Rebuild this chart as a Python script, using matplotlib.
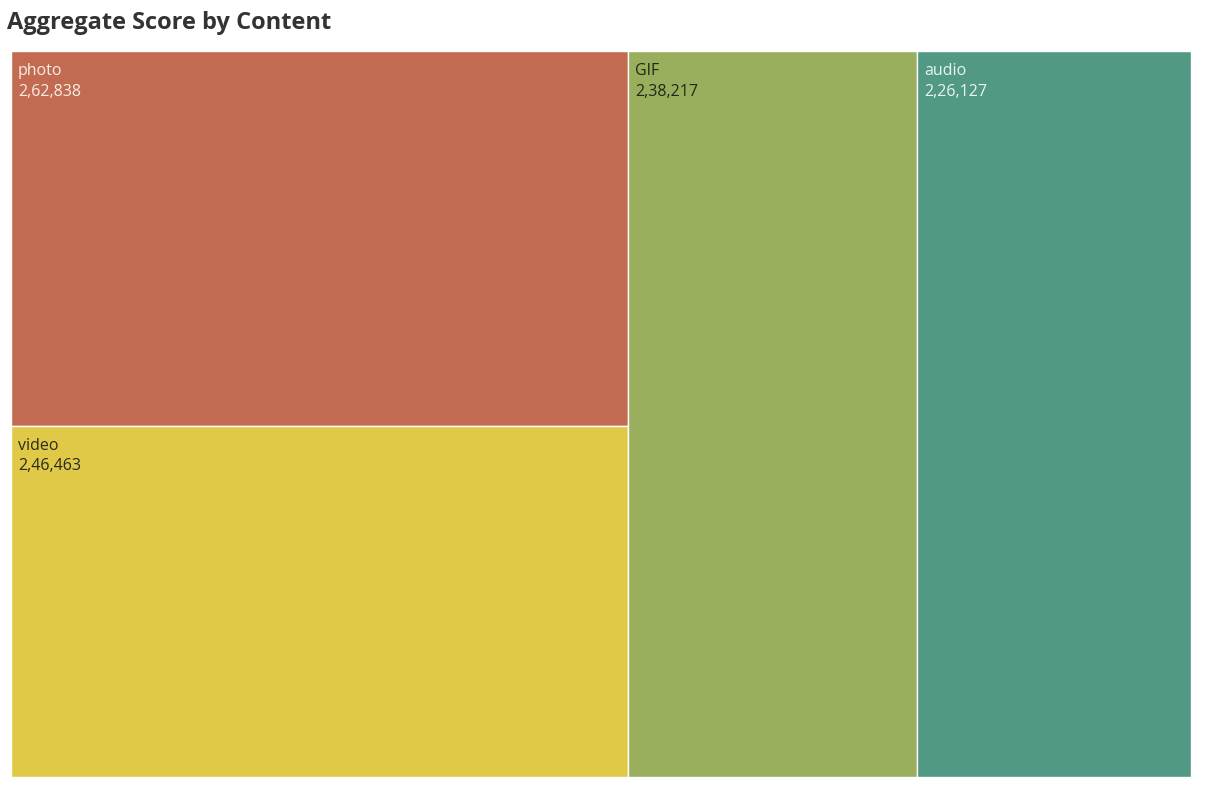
import matplotlib
matplotlib.use("Agg")
import matplotlib.pyplot as plt
from matplotlib.patches import Rectangle

# data
content = ["photo", "video", "GIF", "audio"]
scores = [262838, 246463, 238217, 226127]
colors = ["#C26B50", "#DFC947", "#9AAF5D", "#519985"]
text_colors = ["#F7EDE6", "#2A2A1E", "#1F2A14", "#EAF4F1"]
# first column holds photo + video stacked, then GIF and audio
columns = [[0, 1], [2], [3]]


def indian_fmt(v):
    s = str(v)
    last3, rest = s[-3:], s[:-3]
    parts = []
    while len(rest) > 2:
        parts.insert(0, rest[-2:])
        rest = rest[:-2]
    if rest:
        parts.insert(0, rest)
    return ",".join(parts + [last3])


W, H = 1180.0, 726.0
fig = plt.figure(figsize=(12.21, 7.86), dpi=100)
ax = fig.add_axes([11 / 1221, 9 / 786, W / 1221, H / 786])
ax.set_xlim(0, W)
ax.set_ylim(H, 0)
ax.axis("off")

total = float(sum(scores))
x0 = 0.0
for col in columns:
    col_sum = sum(scores[i] for i in col)
    cw = W * col_sum / total
    y0 = 0.0
    for i in col:
        ch = H * scores[i] / col_sum
        ax.add_patch(Rectangle((x0, y0), cw, ch, facecolor=colors[i],
                               edgecolor="white", linewidth=1.0))
        ax.text(x0 + 7, y0 + 24, content[i], color=text_colors[i],
                fontsize=11.5, family="Open Sans", va="baseline")
        ax.text(x0 + 7, y0 + 44.5, indian_fmt(scores[i]), color=text_colors[i],
                fontsize=11.5, family="Open Sans", va="baseline")
        y0 += ch
    x0 += cw

fig.text(7 / 1221, 1 - 23 / 786, "Aggregate Score by Content", fontsize=17,
         fontweight="bold", family="Open Sans", color="#333333", va="center")

fig.savefig("out.png", dpi=100)
